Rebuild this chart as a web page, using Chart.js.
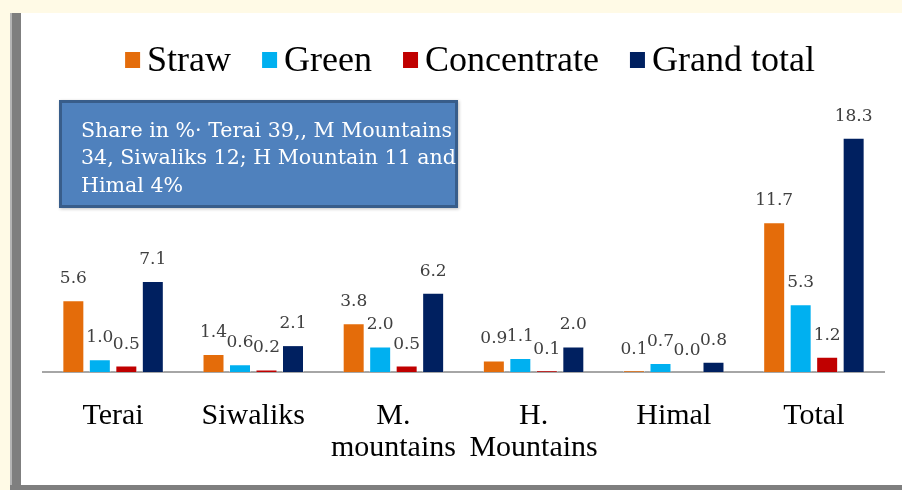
<!DOCTYPE html>
<html><head><meta charset="utf-8">
<script src="https://cdn.jsdelivr.net/npm/chart.js@4.4.1/dist/chart.umd.min.js"></script>
<style>
html,body{margin:0;padding:0;background:#fffae6;width:902px;height:490px;overflow:hidden;}
#panel{position:absolute;left:21px;top:13px;width:881px;height:472px;background:#fff;}
#lb{position:absolute;left:10px;top:13px;width:11px;height:477px;background:#7f7f7f;border-left:2px solid #b5b5b5;box-sizing:border-box;}
#bb{position:absolute;left:10px;top:485px;width:892px;height:5px;background:#7f7f7f;}
canvas{position:absolute;left:0;top:0;}
.pre{position:absolute;left:-1000px;top:0;visibility:hidden;}
</style></head><body>
<div id="panel"></div><div id="lb"></div><div id="bb"></div>
<span class="pre" style="font-family:'Liberation Serif'">Straw</span>
<span class="pre" style="font-family:'DejaVu Serif'">5.6</span>
<canvas id="c" width="902" height="490"></canvas>
<script>
const categories = ['Terai', 'Siwaliks', ['M.', 'mountains'], ['H.', 'Mountains'], 'Himal', 'Total'];
const seriesNames = ['Straw', 'Green', 'Concentrate', 'Grand total'];
const straw = [5.6, 1.4, 3.8, 0.9, 0.1, 11.7];
const green = [1.0, 0.6, 2.0, 1.1, 0.7, 5.3];
const concentrate = [0.5, 0.2, 0.5, 0.1, 0.0, 1.2];
const grandTotal = [7.1, 2.1, 6.2, 2.0, 0.8, 18.3];
const colors = ['#E46C0A', '#00B0F0', '#C00000', '#002060'];
const noteLines = ['Share in %\u00B7 Terai 39,, M Mountains', '34, Siwaliks 12; H Mountain 11 and', 'Himal 4%'];

const seriesValues = [straw, green, concentrate, grandTotal];

const legendPlugin = {
  id: 'customLegend',
  afterDraw(chart) {
    const ctx = chart.ctx;
    ctx.save();
    ctx.font = '36px "Liberation Serif"';
    ctx.textBaseline = 'alphabetic';
    ctx.textAlign = 'left';
    const box = 15, gapBox = 7, gapItem = 31;
    const widths = seriesNames.map(n => ctx.measureText(n).width);
    let total = widths.reduce((a, w) => a + box + gapBox + w, 0) + gapItem * (seriesNames.length - 1);
    let x = 470 - total / 2;
    seriesNames.forEach((n, i) => {
      ctx.fillStyle = colors[i];
      ctx.fillRect(x, 52, box, 16);
      ctx.fillStyle = '#000';
      ctx.fillText(n, x + box + gapBox, 71);
      x += box + gapBox + widths[i] + gapItem;
    });
    ctx.restore();
  }
};

const notePlugin = {
  id: 'note',
  afterDraw(chart) {
    const ctx = chart.ctx;
    ctx.save();
    ctx.shadowColor = 'rgba(0,0,0,0.25)';
    ctx.shadowBlur = 3;
    ctx.shadowOffsetX = 1;
    ctx.shadowOffsetY = 1;
    ctx.fillStyle = '#4F81BD';
    ctx.fillRect(59, 100, 399, 108);
    ctx.shadowColor = 'transparent';
    ctx.strokeStyle = '#385D8A';
    ctx.lineWidth = 3;
    ctx.strokeRect(60.5, 101.5, 396, 105);
    let size = 22;
    ctx.font = size + 'px "DejaVu Serif"';
    const w = ctx.measureText(noteLines[0]).width;
    size = size * 371 / w;
    ctx.font = size.toFixed(2) + 'px "DejaVu Serif"';
    ctx.fillStyle = '#fff';
    ctx.textAlign = 'left';
    ctx.textBaseline = 'alphabetic';
    const bl = [137, 164, 192];
    noteLines.forEach((l, i) => ctx.fillText(l, 81, bl[i]));
    ctx.restore();
  }
};

const valueLabels = {
  id: 'valueLabels',
  afterDatasetsDraw(chart) {
    const ctx = chart.ctx;
    ctx.save();
    ctx.font = '17px "DejaVu Serif"';
    ctx.fillStyle = '#404040';
    ctx.textAlign = 'center';
    ctx.textBaseline = 'alphabetic';
    chart.data.datasets.forEach((ds, di) => {
      const meta = chart.getDatasetMeta(di);
      meta.data.forEach((el, i) => {
        ctx.fillText(Number(ds.data[i]).toFixed(1), el.x, el.y - 17);
      });
    });
    ctx.restore();
  }
};

function build() {
  new Chart(document.getElementById('c'), {
    type: 'bar',
    data: {
      labels: categories,
      datasets: seriesNames.map((n, i) => ({
        label: n,
        data: seriesValues[i],
        backgroundColor: colors[i],
        borderColor: 'rgba(255,255,255,0.35)',
        borderWidth: 1,
        barPercentage: 0.83,
        categoryPercentage: 0.756
      }))
    },
    options: {
      responsive: false,
      animation: false,
      devicePixelRatio: 1,
      layout: { padding: { left: 43, right: 18, top: 116, bottom: 0 } },
      plugins: { legend: { display: false }, tooltip: { enabled: false } },
      scales: {
        x: {
          grid: { display: false, drawTicks: false },
          border: { display: true, color: '#a6a6a6', width: 2 },
          ticks: {
            color: '#000',
            font: { family: '"Liberation Serif"', size: 30, lineHeight: 1.067 },
            padding: 28,
            maxRotation: 0,
            autoSkip: false
          },
          afterFit(scale) { scale.height = 118; }
        },
        y: { display: false, min: 0, max: 20 }
      }
    },
    plugins: [legendPlugin, notePlugin, valueLabels]
  });
}

Promise.all([
  document.fonts.load('36px "Liberation Serif"'),
  document.fonts.load('17px "DejaVu Serif"')
]).then(build, build);
</script>
</body></html>
